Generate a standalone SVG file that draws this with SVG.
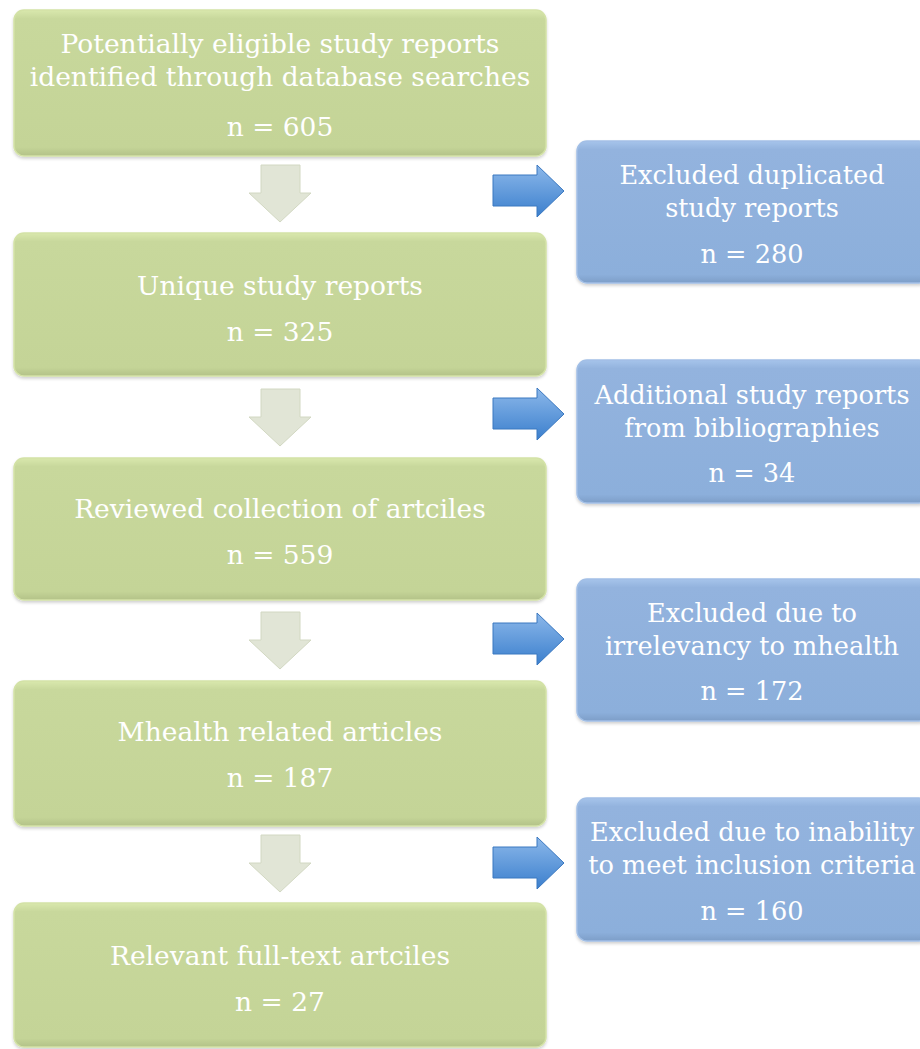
<svg xmlns="http://www.w3.org/2000/svg" width="920" height="1049" viewBox="0 0 920 1049">
<defs>
<linearGradient id="gg" x1="0" y1="0" x2="0" y2="1">
<stop offset="0" stop-color="#d9e8ad"/>
<stop offset="0.06" stop-color="#c8d89c"/>
<stop offset="0.94" stop-color="#c4d497"/>
<stop offset="1" stop-color="#b3c288"/>
</linearGradient>
<linearGradient id="bg" x1="0" y1="0" x2="0" y2="1">
<stop offset="0" stop-color="#a6c4eb"/>
<stop offset="0.06" stop-color="#93b3de"/>
<stop offset="0.94" stop-color="#8cafdb"/>
<stop offset="1" stop-color="#7d9ec8"/>
</linearGradient>
<linearGradient id="ba" x1="0" y1="0" x2="0" y2="1">
<stop offset="0" stop-color="#8cb8ea"/>
<stop offset="1" stop-color="#3b7fcd"/>
</linearGradient>
<filter id="sh" x="-5%" y="-5%" width="110%" height="115%">
<feDropShadow dx="0" dy="2" stdDeviation="1.5" flood-color="#000" flood-opacity="0.18"/>
</filter>
</defs>
<style>
.g{fill:url(#gg);stroke:#d3e2a6;stroke-width:1.5;filter:url(#sh)}
.b{fill:url(#bg);stroke:#a2bfe6;stroke-width:1.5;filter:url(#sh)}
.t{font-family:"DejaVu Serif","Liberation Serif",serif;font-size:26.5px;fill:#ffffff;text-anchor:middle}
.s{font-size:25.6px}
.da{fill:#e1e5d6;stroke:#d2d8c2;stroke-width:1}
.ra{fill:url(#ba);stroke:#3a78c0;stroke-width:1}
</style>
<rect width="920" height="1049" fill="#ffffff"/>
<g id="n1"><rect class="g" x="14" y="10" width="532" height="146" rx="10"/>
<text class="t" x="280" y="53">Potentially eligible study reports</text>
<text class="t" x="280" y="86">identified through database searches</text>
<text class="t" x="280" y="136">n = 605</text></g>
<g id="n2"><rect class="g" x="14" y="233" width="532" height="143" rx="10"/>
<text class="t" x="280" y="295">Unique study reports</text>
<text class="t" x="280" y="341">n = 325</text></g>
<g id="n3"><rect class="g" x="14" y="458" width="532" height="142" rx="10"/>
<text class="t" x="280" y="518">Reviewed collection of artciles</text>
<text class="t" x="280" y="564">n = 559</text></g>
<g id="n4"><rect class="g" x="14" y="681" width="532" height="145" rx="10"/>
<text class="t" x="280" y="741">Mhealth related articles</text>
<text class="t" x="280" y="787">n = 187</text></g>
<g id="n5"><rect class="g" x="14" y="903" width="532" height="144" rx="10"/>
<text class="t" x="280" y="965">Relevant full-text artciles</text>
<text class="t" x="280" y="1011">n = 27</text></g>
<g id="b1"><rect class="b" x="577" y="141" width="352" height="142" rx="10"/>
<text class="t s" x="752" y="184">Excluded duplicated</text>
<text class="t s" x="752" y="217">study reports</text>
<text class="t s" x="752" y="263">n = 280</text></g>
<g id="b2"><rect class="b" x="577" y="360" width="352" height="143" rx="10"/>
<text class="t s" x="752" y="404">Additional study reports</text>
<text class="t s" x="752" y="437">from bibliographies</text>
<text class="t s" x="752" y="482">n = 34</text></g>
<g id="b3"><rect class="b" x="577" y="579" width="352" height="142" rx="10"/>
<text class="t s" x="752" y="622">Excluded due to</text>
<text class="t s" x="752" y="655">irrelevancy to mhealth</text>
<text class="t s" x="752" y="700">n = 172</text></g>
<g id="b4"><rect class="b" x="577" y="798" width="352" height="143" rx="10"/>
<text class="t s" x="752" y="841">Excluded due to inability</text>
<text class="t s" x="752" y="874">to meet inclusion criteria</text>
<text class="t s" x="752" y="920">n = 160</text></g>
<g id="connectors">
<path class="da" d="M261,165 H300 V193 H311 L280,222 L249,193 H261 Z"/>
<path class="da" d="M261,389 H300 V417 H311 L280,446 L249,417 H261 Z"/>
<path class="da" d="M261,612 H300 V640 H311 L280,669 L249,640 H261 Z"/>
<path class="da" d="M261,835 H300 V863 H311 L280,892 L249,863 H261 Z"/>
<path class="ra" d="M493,175 H537 V165 L564,191 L537,217 V206 H493 Z"/>
<path class="ra" d="M493,398 H537 V388 L564,414 L537,440 V429 H493 Z"/>
<path class="ra" d="M493,623 H537 V613 L564,639 L537,665 V654 H493 Z"/>
<path class="ra" d="M493,847 H537 V837 L564,863 L537,889 V878 H493 Z"/>
</g>
</svg>
